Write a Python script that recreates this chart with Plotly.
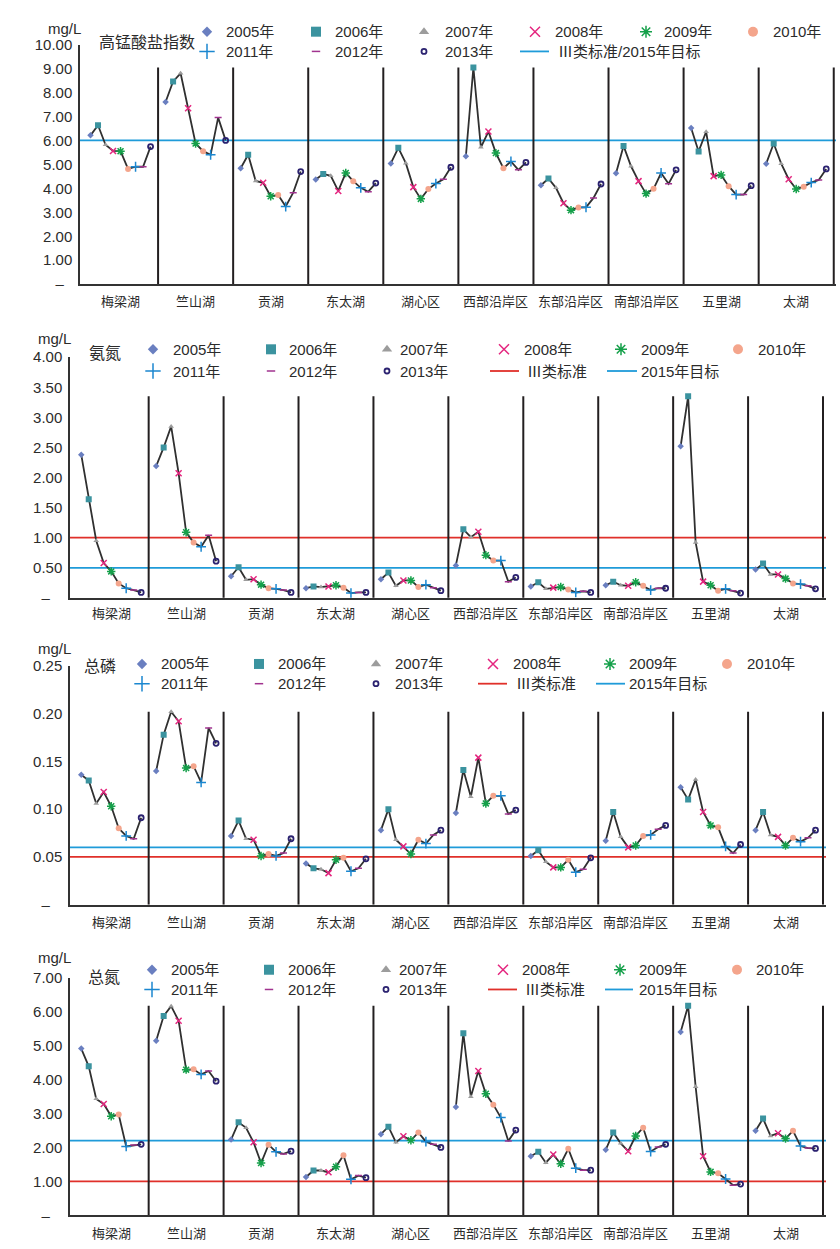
import plotly.graph_objects as go

# ---------------- data ----------------
lakes = ["梅梁湖", "竺山湖", "贡湖", "东太湖", "湖心区",
         "西部沿岸区", "东部沿岸区", "南部沿岸区", "五里湖", "太湖"]
years = ["2005年", "2006年", "2007年", "2008年", "2009年",
         "2010年", "2011年", "2012年", "2013年"]

# 高锰酸盐指数 (mg/L), rows = lakes, columns = 2005..2013
codmn = [
    [6.21, 6.63, 5.82, 5.56, 5.55, 4.81, 4.90, 4.90, 5.74],
    [7.60, 8.46, 8.80, 7.34, 5.87, 5.55, 5.40, 6.95, 6.00],
    [4.84, 5.40, 4.31, 4.23, 3.67, 3.72, 3.24, 3.82, 4.70],
    [4.37, 4.60, 4.52, 3.89, 4.64, 4.30, 4.02, 3.86, 4.22],
    [5.04, 5.69, 5.05, 4.05, 3.56, 3.97, 4.20, 4.38, 4.88],
    [5.34, 9.04, 5.71, 6.37, 5.47, 4.84, 5.12, 4.77, 5.08],
    [4.13, 4.41, 4.02, 3.38, 3.09, 3.20, 3.21, 3.60, 4.18],
    [4.63, 5.77, 4.92, 4.30, 3.78, 3.98, 4.64, 4.19, 4.77],
    [6.52, 5.54, 6.36, 4.51, 4.56, 4.09, 3.74, 3.74, 4.11],
    [5.03, 5.87, 5.03, 4.38, 3.97, 4.07, 4.24, 4.35, 4.81],
]
# 氨氮
nh3n = [
    [2.38, 1.64, 0.95, 0.58, 0.44, 0.24, 0.16, 0.13, 0.09],
    [2.19, 2.50, 2.85, 2.07, 1.09, 0.92, 0.85, 1.04, 0.61],
    [0.36, 0.51, 0.30, 0.31, 0.22, 0.16, 0.15, 0.13, 0.09],
    [0.16, 0.19, 0.18, 0.19, 0.21, 0.17, 0.08, 0.09, 0.09],
    [0.31, 0.42, 0.20, 0.29, 0.29, 0.18, 0.22, 0.17, 0.12],
    [0.54, 1.14, 1.01, 1.10, 0.71, 0.62, 0.62, 0.27, 0.34],
    [0.19, 0.26, 0.15, 0.17, 0.18, 0.14, 0.09, 0.11, 0.09],
    [0.21, 0.27, 0.21, 0.20, 0.26, 0.20, 0.13, 0.16, 0.16],
    [2.52, 3.35, 0.92, 0.27, 0.21, 0.12, 0.15, 0.12, 0.08],
    [0.47, 0.57, 0.39, 0.39, 0.32, 0.24, 0.23, 0.20, 0.15],
]
# 总磷
tp = [
    [0.136, 0.130, 0.106, 0.118, 0.103, 0.080, 0.072, 0.069, 0.091],
    [0.140, 0.178, 0.202, 0.192, 0.143, 0.145, 0.128, 0.185, 0.169],
    [0.072, 0.088, 0.069, 0.068, 0.051, 0.053, 0.051, 0.054, 0.069],
    [0.043, 0.038, 0.037, 0.033, 0.047, 0.049, 0.035, 0.038, 0.048],
    [0.078, 0.100, 0.068, 0.061, 0.053, 0.068, 0.064, 0.073, 0.078],
    [0.096, 0.141, 0.113, 0.154, 0.106, 0.114, 0.114, 0.095, 0.099],
    [0.051, 0.057, 0.045, 0.039, 0.039, 0.047, 0.034, 0.037, 0.049],
    [0.067, 0.097, 0.071, 0.060, 0.062, 0.072, 0.073, 0.079, 0.083],
    [0.123, 0.110, 0.131, 0.097, 0.083, 0.081, 0.061, 0.054, 0.063],
    [0.078, 0.097, 0.073, 0.071, 0.062, 0.070, 0.066, 0.070, 0.078],
]
# 总氮
tn = [
    [4.91, 4.39, 3.43, 3.28, 2.92, 2.97, 2.03, 2.07, 2.09],
    [5.14, 5.87, 6.16, 5.73, 4.29, 4.30, 4.15, 4.25, 3.95],
    [2.23, 2.74, 2.58, 2.15, 1.54, 2.08, 1.87, 1.81, 1.89],
    [1.13, 1.32, 1.32, 1.27, 1.43, 1.77, 1.06, 1.17, 1.11],
    [2.39, 2.61, 2.15, 2.33, 2.21, 2.44, 2.17, 2.09, 2.00],
    [3.19, 5.36, 3.49, 4.25, 3.58, 3.26, 2.88, 2.19, 2.51],
    [1.74, 1.87, 1.55, 1.79, 1.52, 1.96, 1.39, 1.33, 1.33],
    [1.93, 2.44, 2.12, 1.89, 2.34, 2.58, 1.88, 2.01, 2.09],
    [5.40, 6.17, 3.79, 1.74, 1.28, 1.24, 1.07, 0.89, 0.92],
    [2.49, 2.85, 2.34, 2.42, 2.26, 2.49, 2.04, 1.98, 1.97],
]

titles = ["高锰酸盐指数", "氨氮", "总磷", "总氮"]
std_codmn = [("blue", 6.0)]
std_nh3n = [("red", 1.0), ("blue", 0.5)]
std_tp = [("red", 0.05), ("blue", 0.06)]
std_tn = [("red", 1.0), ("blue", 2.2)]
ticks_codmn = [0, 1, 2, 3, 4, 5, 6, 7, 8, 9, 10]
ticks_nh3n = [0, 0.5, 1.0, 1.5, 2.0, 2.5, 3.0, 3.5, 4.0]
ticks_tp = [0, 0.05, 0.10, 0.15, 0.20, 0.25]
ticks_tn = [0, 1, 2, 3, 4, 5, 6, 7]

# ---------------- styles ----------------
W, H = 840, 1249
FONT = "Liberation Sans, Arial, Noto Sans CJK SC, sans-serif"
TXT = "#2b2b2b"
COL = {"blue": "#1f9bd9", "red": "#e0302a"}
symbols = ["diamond", "square", "triangle-up", "x-thin-open", "asterisk-open",
           "circle", "cross-thin-open", "line-ew-open", "circle-open"]
colors = ["#6a7fc0", "#3b939f", "#9c9c9c", "#e4267f", "#15a04a",
          "#f4a58c", "#1b87d0", "#a1338f", "#2b2270"]
msize = [5, 6, 5, 6, 7, 6, 7, 5, 5]
mline = [0, 0, 0, 1.5, 1.5, 0, 1.5, 1.5, 1.8]
legsize = [8, 10, 9, 10, 10, 10, 11, 6, 5]

panels = [
    dict(data=codmn, std=std_codmn, ticks=ticks_codmn, dash=2, x0=80, x1=836, top=36, bot=279,
         xr=[-0.4, 100.3], yr=[0, 10], title=(97, 34), unit=(46, 20), laby=297,
         rows=(23, 43), mx=[207, 316, 424, 535, 646, 753], tx=[224, 333, 443, 553, 662, 771],
         lines=[("blue", 520, 549, "Ⅲ类标准/2015年目标", 556)]),
    dict(data=nh3n, std=std_nh3n, ticks=ticks_nh3n, dash=3, x0=70, x1=826, top=353, bot=597,
         xr=[-0.5, 100.4], yr=[0, 4], title=(87, 349), unit=(36, 334), laby=613,
         rows=(345, 367), mx=[153, 271, 387, 504, 621, 738], tx=[171, 287, 398, 522, 639, 756],
         lines=[("red", 490, 519, "Ⅲ类标准", 525), ("blue", 607, 637, "2015年目标", 639)]),
    dict(data=tp, std=std_tp, ticks=ticks_tp, dash=3, x0=70, x1=826, top=666, bot=908,
         xr=[-0.5, 100.4], yr=[0, 0.25], title=(82, 667), unit=(36, 648), laby=926,
         rows=(664, 684), mx=[142, 259, 376, 493, 610, 727], tx=[159, 276, 393, 511, 627, 745],
         lines=[("red", 478, 507, "Ⅲ类标准", 514), ("blue", 596, 625, "2015年目标", 627)]),
    dict(data=tn, std=std_tn, ticks=ticks_tn, dash=3, x0=70, x1=826, top=982, bot=1223,
         xr=[-0.5, 100.4], yr=[0, 7], title=(86, 982), unit=(36, 962), laby=1241,
         rows=(974, 994), mx=[152, 269, 386, 503, 620, 737], tx=[169, 286, 397, 520, 637, 754],
         lines=[("red", 488, 517, "Ⅲ类标准", 523), ("blue", 605, 633, "2015年目标", 637)]),
]

fig = go.Figure()
shapes, annotations, axes = [], [], {}


def py(y):
    return 1 - y / H


for p, P in enumerate(panels):
    n = p + 1
    xa = "x" if n == 1 else f"x{n}"
    ya = "y" if n == 1 else f"y{n}"
    data = P["data"]
    # connecting lines per lake
    lx, ly = [], []
    for k, row in enumerate(data):
        for j, v in enumerate(row):
            lx.append(10 * k + j + 1)
            ly.append(v)
        lx.append(None)
        ly.append(None)
    fig.add_trace(go.Scatter(x=lx, y=ly, mode="lines", line=dict(color="#303030", width=1.8),
                             xaxis=xa, yaxis=ya, showlegend=False, hoverinfo="skip"))
    for j in range(len(years)):
        fig.add_trace(go.Scatter(
            x=[10 * k + j + 1 for k in range(len(lakes))],
            y=[data[k][j] for k in range(len(lakes))],
            mode="markers", name=years[j], showlegend=False,
            marker=dict(symbol=symbols[j], color=colors[j], size=msize[j],
                        line=dict(color=colors[j], width=mline[j])),
            xaxis=xa, yaxis=ya))
    vmax = max(max(r) for r in data)
    for k in range(len(lakes)):
        shapes.append(dict(type="line", xref=xa, yref=ya, x0=10 * (k + 1), x1=10 * (k + 1),
                           y0=0, y1=vmax, line=dict(color="#231f20", width=2), layer="below"))
    for c, v in P["std"]:
        shapes.append(dict(type="line", xref=f"{xa} domain", yref=ya, x0=0, x1=1, y0=v, y1=v,
                           line=dict(color=COL[c], width=1.8), layer="below"))
    ticktext = ["–" + "\u00a0" * P["dash"]] + [f"{t:.2f}" for t in P["ticks"][1:]]
    axes["xaxis" if n == 1 else f"xaxis{n}"] = dict(
        domain=[P["x0"] / W, P["x1"] / W], range=P["xr"], anchor=ya,
        showline=True, linecolor="#333333", linewidth=1.5, showgrid=False, zeroline=False,
        showticklabels=False, ticks="", fixedrange=True)
    axes["yaxis" if n == 1 else f"yaxis{n}"] = dict(
        domain=[py(P["bot"]), py(P["top"])], range=P["yr"], anchor=xa,
        showline=True, linecolor="#333333", linewidth=1.5, showgrid=False, zeroline=False,
        tickvals=P["ticks"], ticktext=ticktext, ticks="outside", ticklen=3,
        tickcolor="rgba(0,0,0,0)", tickfont=dict(size=15, color=TXT), fixedrange=True)
    # category labels
    for k, name in enumerate(lakes):
        annotations.append(dict(text=name, xref=xa, x=10 * k + 5, yref="paper", y=py(P["laby"]),
                                yanchor="middle", xanchor="center", showarrow=False,
                                font=dict(size=13, color=TXT)))
    # title and unit
    annotations.append(dict(text=titles[p], xref="paper", x=P["title"][0] / W, xanchor="left",
                            yref="paper", y=py(P["title"][1]), yanchor="middle", showarrow=False,
                            font=dict(size=16, color=TXT)))
    annotations.append(dict(text="mg/L", xref="paper", x=P["unit"][0] / W, xanchor="left",
                            yref="paper", y=py(P["unit"][1]), yanchor="middle", showarrow=False,
                            font=dict(size=15, color=TXT)))
    # legend texts
    for j, yname in enumerate(years):
        col, row = (j, 0) if j < 6 else (j - 6, 1)
        annotations.append(dict(text=yname, xref="paper", x=P["tx"][col] / W, xanchor="left",
                                yref="paper", y=py(P["rows"][row]), yanchor="middle",
                                showarrow=False, font=dict(size=15, color=TXT)))
    for c, lx0, lx1, label, ltx in P["lines"]:
        shapes.append(dict(type="line", xref="paper", yref="paper", x0=lx0 / W, x1=lx1 / W,
                           y0=py(P["rows"][1]), y1=py(P["rows"][1]),
                           line=dict(color=COL[c], width=1.8)))
        annotations.append(dict(text=label, xref="paper", x=ltx / W, xanchor="left",
                                yref="paper", y=py(P["rows"][1]), yanchor="middle",
                                showarrow=False, font=dict(size=15, color=TXT)))

# legend markers on a pixel overlay axis
for j in range(len(years)):
    col, row = (j, 0) if j < 6 else (j - 6, 1)
    fig.add_trace(go.Scatter(
        x=[P["mx"][col] for P in panels], y=[P["rows"][row] for P in panels],
        mode="markers", showlegend=False, hoverinfo="skip",
        marker=dict(symbol=symbols[j], color=colors[j], size=legsize[j],
                    line=dict(color=colors[j], width=mline[j])),
        xaxis="x5", yaxis="y5"))
axes["xaxis5"] = dict(domain=[0, 1], range=[0, W], anchor="y5", visible=False, fixedrange=True)
axes["yaxis5"] = dict(domain=[0, 1], range=[H, 0], anchor="x5", visible=False, fixedrange=True)

fig.update_layout(
    width=W, height=H, margin=dict(l=0, r=0, t=0, b=0),
    paper_bgcolor="white", plot_bgcolor="rgba(0,0,0,0)",
    font=dict(family=FONT, color=TXT), showlegend=False,
    shapes=shapes, annotations=annotations, **axes)

fig.write_html("out.html", config={"displayModeBar": False},
               post_script="document.body.style.margin='0px';document.body.style.overflow='hidden';")
